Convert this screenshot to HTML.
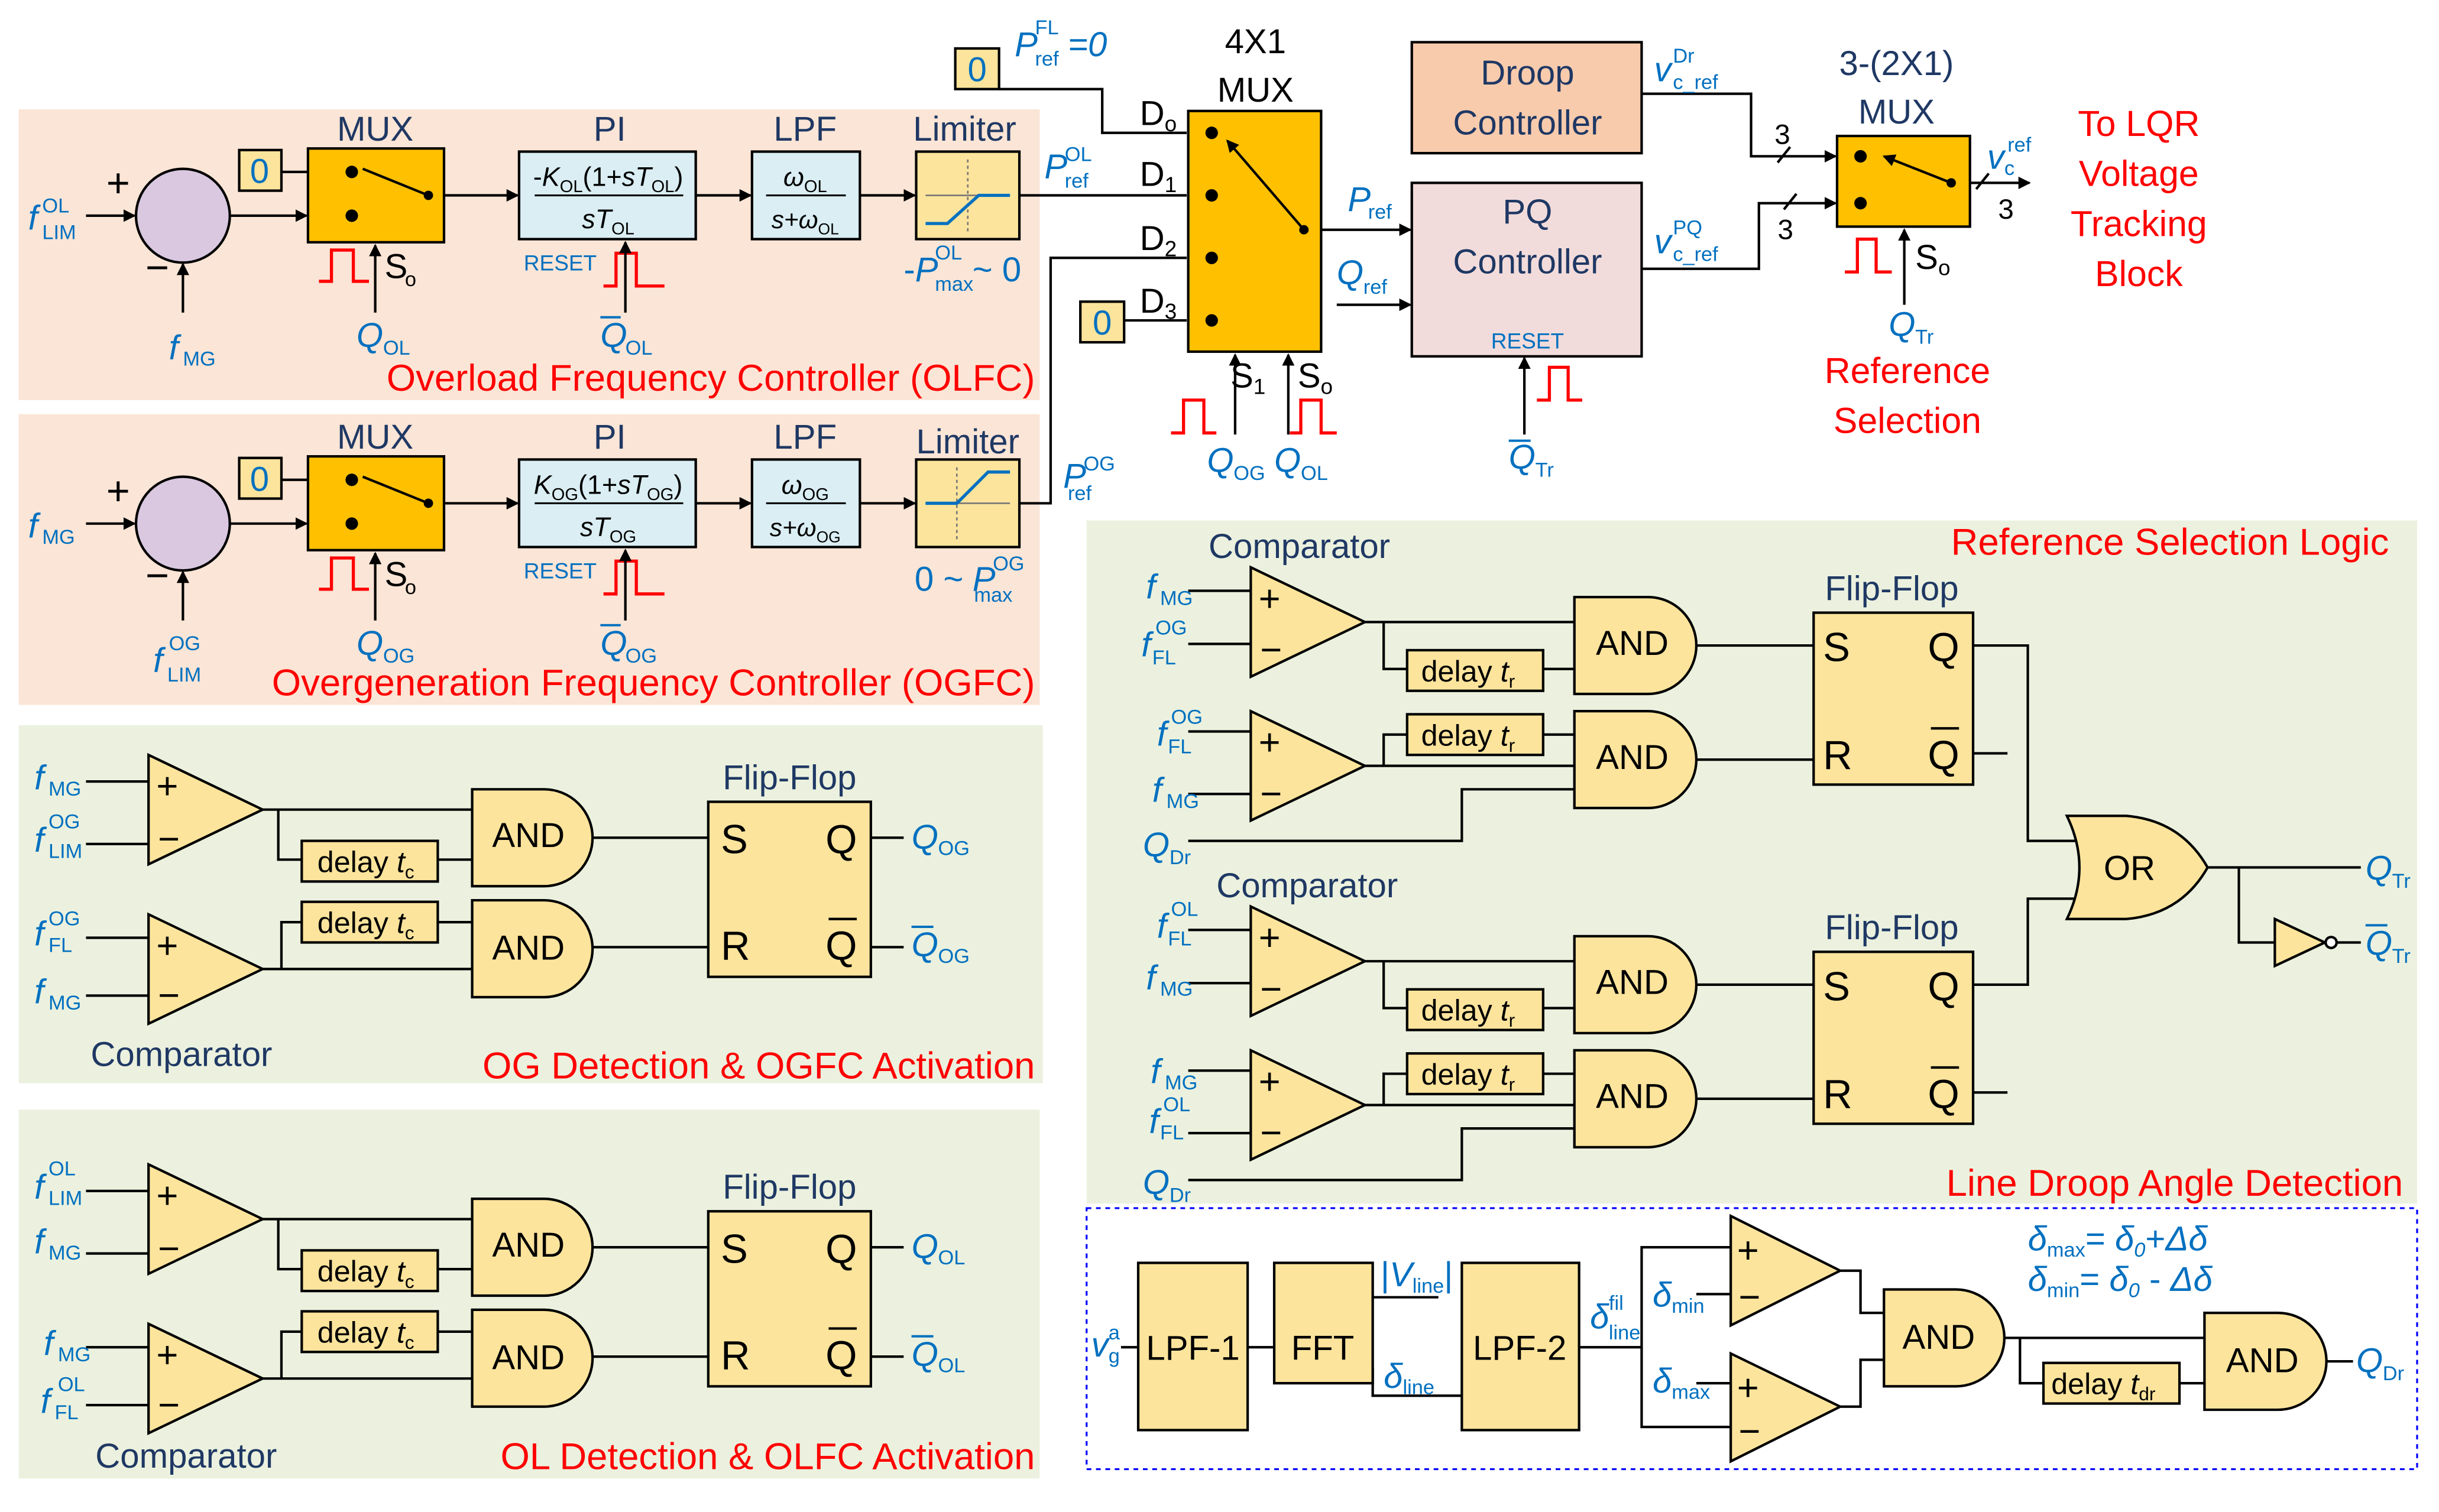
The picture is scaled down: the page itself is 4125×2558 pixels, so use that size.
<!DOCTYPE html>
<html><head><meta charset="utf-8"><style>
html,body{margin:0;padding:0;background:#fff}
svg{display:block}
text{font-family:"Liberation Sans",sans-serif}
.b{fill:#0070c0}.r{fill:#ff0000}.n{fill:#1f3864}.k{fill:#000}
.ln{stroke:#000;stroke-width:1.6;fill:none}
.bx{stroke:#000;stroke-width:1.6}
.pl{stroke:#ff0000;stroke-width:2;fill:none}
</style></head><body>
<svg width="4125" height="2558" viewBox="0 0 1560 967.4" preserveAspectRatio="none" xmlns="http://www.w3.org/2000/svg">
<defs>
<marker id="a" markerWidth="8" markerHeight="8" refX="7" refY="4" orient="auto" markerUnits="userSpaceOnUse"><path d="M0,0 L8,4 L0,8 Z" fill="#000"/></marker>
</defs>
<rect width="1560" height="967.4" fill="#fff"/>
<rect x="12" y="70" width="653" height="186" fill="#fbe5d6"/>
<rect x="12" y="265" width="653" height="186" fill="#fbe5d6"/>
<rect x="12" y="464" width="655" height="229" fill="#ebf1de"/>
<rect x="12" y="710" width="653" height="236" fill="#ebf1de"/>
<rect x="695" y="333" width="851" height="437" fill="#ebf1de"/>
<rect x="695" y="773" width="851" height="167" fill="#fff" stroke="#0000ff" stroke-width="1.2" stroke-dasharray="3,3"/>

<g font-size="22">
<text x="18" y="147" class="b" font-style="italic">f</text><text x="27" y="136" class="b" font-size="13">OL</text><text x="27" y="153" class="b" font-size="13">LIM</text>
<line x1="55" y1="138" x2="86" y2="138" class="ln" marker-end="url(#a)"/>
<circle cx="117" cy="138" r="30" fill="#d9c8e0" class="bx"/>
<text x="68" y="126" class="k" font-size="26">+</text><text x="93" y="180" class="k" font-size="26">−</text>
<line x1="117" y1="200" x2="117" y2="169" class="ln" marker-end="url(#a)"/>
<text x="108" y="230" class="b" font-style="italic">f</text><text x="117" y="234" class="b" font-size="13">MG</text>
<line x1="147" y1="138" x2="196" y2="138" class="ln" marker-end="url(#a)"/>
<rect x="153" y="96" width="27" height="26" fill="#fce49c" class="bx"/><text x="166" y="117" class="b" text-anchor="middle">0</text>
<line x1="180" y1="110" x2="197" y2="110" class="ln"/>
<text x="240" y="90" class="n" text-anchor="middle">MUX</text>
<rect x="197" y="95" width="87" height="60" fill="#ffc000" class="bx"/>
<circle cx="225" cy="110" r="4"/><circle cx="225" cy="138" r="4"/><circle cx="274" cy="125" r="3"/>
<line x1="274" y1="125" x2="232" y2="108" class="ln"/>
<line x1="284" y1="125" x2="331" y2="125" class="ln" marker-end="url(#a)"/>
<path d="M204,180 H212 V160 H226 V180 H236" class="pl"/>
<text x="246" y="178" class="k">S</text><text x="259" y="183" class="k" font-size="13">o</text>
<line x1="240" y1="200" x2="240" y2="157" class="ln" marker-end="url(#a)"/>
<text x="228" y="222" class="b" font-style="italic">Q</text><text x="245" y="227" class="b" font-size="13">OL</text>
<text x="390" y="90" class="n" text-anchor="middle">PI</text>
<rect x="332" y="97" width="113" height="56" fill="#daeef3" class="bx"/>
<text x="389" y="119" class="k" font-size="17" text-anchor="middle">-<tspan font-style="italic">K</tspan><tspan font-size="11" dy="4">OL</tspan><tspan dy="-4">(1+</tspan><tspan font-style="italic">sT</tspan><tspan font-size="11" dy="4">OL</tspan><tspan dy="-4">)</tspan></text>
<line x1="342" y1="125" x2="437" y2="125" stroke="#000" stroke-width="1.2"/>
<text x="389" y="146" class="k" font-size="17" text-anchor="middle" font-style="italic">sT<tspan font-size="11" dy="4" font-style="normal">OL</tspan></text>
<text x="335" y="173" class="b" font-size="14">RESET</text>
<path d="M386,183 H394 V162 H407 V183 H425" class="pl"/>
<line x1="400" y1="200" x2="400" y2="155" class="ln" marker-end="url(#a)"/>
<text x="384" y="222" class="b" font-style="italic">Q</text><line x1="384" y1="203" x2="397" y2="203" stroke="#0070c0" stroke-width="1.5"/><text x="400" y="227" class="b" font-size="13">OL</text>
<line x1="445" y1="125" x2="480" y2="125" class="ln" marker-end="url(#a)"/>
<text x="515" y="90" class="n" text-anchor="middle">LPF</text>
<rect x="481" y="97" width="69" height="56" fill="#daeef3" class="bx"/>
<text x="515" y="119" class="k" font-size="17" text-anchor="middle" font-style="italic">ω<tspan font-size="11" dy="4" font-style="normal">OL</tspan></text>
<line x1="490" y1="125" x2="541" y2="125" stroke="#000" stroke-width="1.2"/>
<text x="515" y="146" class="k" font-size="16" text-anchor="middle" font-style="italic">s+ω<tspan font-size="10" dy="4" font-style="normal">OL</tspan></text>
<line x1="550" y1="125" x2="585" y2="125" class="ln" marker-end="url(#a)"/>
<text x="617" y="90" class="n" text-anchor="middle">Limiter</text>
<rect x="586" y="97" width="66" height="56" fill="#fce49c" class="bx"/>
<line x1="592" y1="125" x2="646" y2="125" stroke="#777" stroke-width="1"/><line x1="619" y1="102" x2="619" y2="148" stroke="#777" stroke-width="1" stroke-dasharray="2,2"/>
<path d="M592,143 H606 L626,125 H646" stroke="#0070c0" stroke-width="2" fill="none"/>
<text x="578" y="180" class="b">-<tspan font-style="italic">P</tspan></text><text x="598" y="166" class="b" font-size="13">OL</text><text x="598" y="186" class="b" font-size="13">max</text><text x="622" y="180" class="b">~ 0</text>
<line x1="652" y1="125" x2="759" y2="125" class="ln"/>
<text x="668" y="114" class="b" font-style="italic">P</text><text x="681" y="103" class="b" font-size="13">OL</text><text x="681" y="120" class="b" font-size="13">ref</text>
<text x="662" y="250" class="r" font-size="24" text-anchor="end">Overload Frequency Controller (OLFC)</text>

<text x="18" y="344" class="b" font-style="italic">f</text><text x="27" y="348" class="b" font-size="13">MG</text>
<line x1="55" y1="335" x2="86" y2="335" class="ln" marker-end="url(#a)"/>
<circle cx="117" cy="335" r="30" fill="#d9c8e0" class="bx"/>
<text x="68" y="323" class="k" font-size="26">+</text><text x="93" y="377" class="k" font-size="26">−</text>
<line x1="117" y1="397" x2="117" y2="366" class="ln" marker-end="url(#a)"/>
<text x="98" y="430" class="b" font-style="italic">f</text><text x="108" y="416" class="b" font-size="13">OG</text><text x="107" y="436" class="b" font-size="13">LIM</text>
<line x1="147" y1="335" x2="196" y2="335" class="ln" marker-end="url(#a)"/>
<rect x="153" y="293" width="27" height="26" fill="#fce49c" class="bx"/><text x="166" y="314" class="b" text-anchor="middle">0</text>
<line x1="180" y1="307" x2="197" y2="307" class="ln"/>
<text x="240" y="287" class="n" text-anchor="middle">MUX</text>
<rect x="197" y="292" width="87" height="60" fill="#ffc000" class="bx"/>
<circle cx="225" cy="307" r="4"/><circle cx="225" cy="335" r="4"/><circle cx="274" cy="322" r="3"/>
<line x1="274" y1="322" x2="232" y2="305" class="ln"/>
<line x1="284" y1="322" x2="331" y2="322" class="ln" marker-end="url(#a)"/>
<path d="M204,377 H212 V357 H226 V377 H236" class="pl"/>
<text x="246" y="375" class="k">S</text><text x="259" y="380" class="k" font-size="13">o</text>
<line x1="240" y1="397" x2="240" y2="354" class="ln" marker-end="url(#a)"/>
<text x="228" y="419" class="b" font-style="italic">Q</text><text x="245" y="424" class="b" font-size="13">OG</text>
<text x="390" y="287" class="n" text-anchor="middle">PI</text>
<rect x="332" y="294" width="113" height="56" fill="#daeef3" class="bx"/>
<text x="389" y="316" class="k" font-size="17" text-anchor="middle"><tspan font-style="italic">K</tspan><tspan font-size="11" dy="4">OG</tspan><tspan dy="-4">(1+</tspan><tspan font-style="italic">sT</tspan><tspan font-size="11" dy="4">OG</tspan><tspan dy="-4">)</tspan></text>
<line x1="342" y1="322" x2="437" y2="322" stroke="#000" stroke-width="1.2"/>
<text x="389" y="343" class="k" font-size="17" text-anchor="middle" font-style="italic">sT<tspan font-size="11" dy="4" font-style="normal">OG</tspan></text>
<text x="335" y="370" class="b" font-size="14">RESET</text>
<path d="M386,380 H394 V359 H407 V380 H425" class="pl"/>
<line x1="400" y1="397" x2="400" y2="352" class="ln" marker-end="url(#a)"/>
<text x="384" y="419" class="b" font-style="italic">Q</text><line x1="384" y1="400" x2="397" y2="400" stroke="#0070c0" stroke-width="1.5"/><text x="400" y="424" class="b" font-size="13">OG</text>
<line x1="445" y1="322" x2="480" y2="322" class="ln" marker-end="url(#a)"/>
<text x="515" y="287" class="n" text-anchor="middle">LPF</text>
<rect x="481" y="294" width="69" height="56" fill="#daeef3" class="bx"/>
<text x="515" y="316" class="k" font-size="17" text-anchor="middle" font-style="italic">ω<tspan font-size="11" dy="4" font-style="normal">OG</tspan></text>
<line x1="490" y1="322" x2="541" y2="322" stroke="#000" stroke-width="1.2"/>
<text x="515" y="343" class="k" font-size="16" text-anchor="middle" font-style="italic">s+ω<tspan font-size="10" dy="4" font-style="normal">OG</tspan></text>
<line x1="550" y1="322" x2="585" y2="322" class="ln" marker-end="url(#a)"/>
<text x="619" y="290" class="n" text-anchor="middle">Limiter</text>
<rect x="586" y="294" width="66" height="56" fill="#fce49c" class="bx"/>
<line x1="592" y1="322" x2="646" y2="322" stroke="#777" stroke-width="1"/><line x1="612" y1="299" x2="612" y2="345" stroke="#777" stroke-width="1" stroke-dasharray="2,2"/>
<path d="M592,322 H612 L632,302 H646" stroke="#0070c0" stroke-width="2" fill="none"/>
<text x="585" y="378" class="b">0 ~</text><text x="622" y="378" class="b" font-style="italic">P</text><text x="635" y="365" class="b" font-size="13">OG</text><text x="623" y="385" class="b" font-size="13">max</text>
<polyline points="652,322 672,322 672,165 759,165" class="ln"/>
<text x="680" y="312" class="b" font-style="italic">P</text><text x="693" y="301" class="b" font-size="13">OG</text><text x="683" y="320" class="b" font-size="13">ref</text>
<text x="662" y="445" class="r" font-size="24" text-anchor="end">Overgeneration Frequency Controller (OGFC)</text>

<text x="803" y="34" class="k" text-anchor="middle">4X1</text>
<text x="803" y="65" class="k" text-anchor="middle">MUX</text>
<rect x="760" y="71" width="85" height="154" fill="#ffc000" class="bx"/>
<circle cx="775" cy="85" r="4"/><circle cx="775" cy="125" r="4"/><circle cx="775" cy="165" r="4"/><circle cx="775" cy="205" r="4"/><circle cx="834" cy="147" r="3"/>
<line x1="834" y1="147" x2="785" y2="90" class="ln" marker-end="url(#a)"/>
<text x="729" y="80" class="k">D<tspan font-size="14" dy="4">o</tspan></text>
<text x="729" y="119" class="k">D<tspan font-size="14" dy="4">1</tspan></text>
<text x="729" y="160" class="k">D<tspan font-size="14" dy="4">2</tspan></text>
<text x="729" y="200" class="k">D<tspan font-size="14" dy="4">3</tspan></text>
<rect x="611" y="31" width="28" height="26" fill="#fce49c" class="bx"/><text x="625" y="52" class="b" text-anchor="middle">0</text>
<polyline points="639,57 705,57 705,85 759,85" class="ln"/>
<text x="649" y="36" class="b" font-style="italic">P</text><text x="662" y="22" class="b" font-size="13">FL</text><text x="662" y="42" class="b" font-size="13">ref</text><text x="683" y="36" class="b" font-style="italic">=0</text>
<rect x="691" y="193" width="28" height="26" fill="#fce49c" class="bx"/><text x="705" y="214" class="b" text-anchor="middle">0</text>
<line x1="719" y1="205" x2="759" y2="205" class="ln"/>
<line x1="845" y1="147" x2="902" y2="147" class="ln" marker-end="url(#a)"/>
<text x="862" y="135" class="b" font-style="italic">P</text><text x="875" y="140" class="b" font-size="13">ref</text>
<text x="855" y="182" class="b" font-style="italic">Q</text><text x="872" y="188" class="b" font-size="13">ref</text>
<line x1="855" y1="195" x2="902" y2="195" class="ln" marker-end="url(#a)"/>
<path d="M749,277 H757 V256 H770 V277 H778" class="pl"/>
<path d="M825,277 H832 V256 H845 V277 H855" class="pl"/>
<line x1="790" y1="278" x2="790" y2="227" class="ln" marker-end="url(#a)"/>
<line x1="824" y1="278" x2="824" y2="227" class="ln" marker-end="url(#a)"/>
<text x="787" y="248" class="k">S<tspan font-size="14" dy="4">1</tspan></text>
<text x="830" y="248" class="k">S<tspan font-size="14" dy="4">o</tspan></text>
<text x="772" y="302" class="b" font-style="italic">Q</text><text x="789" y="307" class="b" font-size="13">OG</text>
<text x="815" y="302" class="b" font-style="italic">Q</text><text x="832" y="307" class="b" font-size="13">OL</text>

<rect x="903" y="27" width="147" height="71" fill="#f8cbad" class="bx"/>
<text x="977" y="54" class="n" text-anchor="middle">Droop</text><text x="977" y="86" class="n" text-anchor="middle">Controller</text>
<rect x="903" y="117" width="147" height="111" fill="#f2dcdb" class="bx"/>
<text x="977" y="143" class="n" text-anchor="middle">PQ</text><text x="977" y="175" class="n" text-anchor="middle">Controller</text>
<text x="977" y="223" class="b" font-size="14" text-anchor="middle">RESET</text>
<path d="M983,256 H991 V235 H1003 V256 H1012" class="pl"/>
<line x1="975" y1="278" x2="975" y2="229" class="ln" marker-end="url(#a)"/>
<text x="965" y="300" class="b" font-style="italic">Q</text><line x1="965" y1="282" x2="979" y2="282" stroke="#0070c0" stroke-width="1.5"/><text x="982" y="305" class="b" font-size="13">Tr</text>
<polyline points="1050,60 1120,60 1120,100 1174,100" class="ln" marker-end="url(#a)"/>
<polyline points="1050,172 1125,172 1125,130 1174,130" class="ln" marker-end="url(#a)"/>
<text x="1058" y="52" class="b" font-style="italic">v</text><text x="1070" y="40" class="b" font-size="13">Dr</text><text x="1070" y="57" class="b" font-size="13">c_ref</text>
<text x="1058" y="162" class="b" font-style="italic">v</text><text x="1070" y="150" class="b" font-size="13">PQ</text><text x="1070" y="167" class="b" font-size="13">c_ref</text>
<line x1="1137" y1="104" x2="1145" y2="94" class="ln"/><line x1="1141" y1="134" x2="1149" y2="124" class="ln"/>
<text x="1135" y="92" class="k" font-size="18">3</text><text x="1137" y="153" class="k" font-size="18">3</text>
<text x="1213" y="48" class="n" text-anchor="middle">3-(2X1)</text>
<text x="1213" y="79" class="n" text-anchor="middle">MUX</text>
<rect x="1175" y="87" width="85" height="58" fill="#ffc000" class="bx"/>
<circle cx="1190" cy="100" r="4"/><circle cx="1190" cy="130" r="4"/><circle cx="1248" cy="117" r="3"/>
<line x1="1248" y1="117" x2="1205" y2="100" class="ln" marker-end="url(#a)"/>
<line x1="1260" y1="117" x2="1298" y2="117" class="ln" marker-end="url(#a)"/>
<line x1="1264" y1="121" x2="1272" y2="111" class="ln"/>
<text x="1271" y="108" class="b" font-style="italic">v</text><text x="1282" y="112" class="b" font-size="13">c</text><text x="1284" y="97" class="b" font-size="13">ref</text>
<text x="1278" y="140" class="k" font-size="18">3</text>
<path d="M1180,174 H1188 V153 H1200 V174 H1210" class="pl"/>
<line x1="1218" y1="195" x2="1218" y2="147" class="ln" marker-end="url(#a)"/>
<text x="1225" y="172" class="k">S<tspan font-size="14" dy="4">o</tspan></text>
<text x="1208" y="215" class="b" font-style="italic">Q</text><text x="1225" y="220" class="b" font-size="13">Tr</text>
<text x="1220" y="245" class="r" font-size="23" text-anchor="middle">Reference</text>
<text x="1220" y="277" class="r" font-size="23" text-anchor="middle">Selection</text>
<text x="1368" y="87" class="r" font-size="23" text-anchor="middle">To LQR</text>
<text x="1368" y="119" class="r" font-size="23" text-anchor="middle">Voltage</text>
<text x="1368" y="151" class="r" font-size="23" text-anchor="middle">Tracking</text>
<text x="1368" y="183" class="r" font-size="23" text-anchor="middle">Block</text>

<g id="det1">
<line x1="55" y1="500" x2="95" y2="500" class="ln"/><line x1="55" y1="540" x2="95" y2="540" class="ln"/>
<path d="M95,483 L168,518 L95,553 Z" fill="#fce49c" class="bx"/>
<text x="100" y="511" class="k" font-size="24">+</text><text x="101" y="545" class="k" font-size="24">−</text>
<line x1="168" y1="518" x2="302" y2="518" class="ln"/>
<polyline points="178,518 178,550 302,550" class="ln"/>
<rect x="193" y="538" width="87" height="26" fill="#fce49c" class="bx"/>
<text x="203" y="558" class="k" font-size="19">delay <tspan font-style="italic">t</tspan><tspan font-size="12" dy="4">c</tspan></text>
<path d="M302,505 H348 A31,31 0 0 1 348,567 H302 Z" fill="#fce49c" class="bx"/>
<text x="338" y="542" class="k" text-anchor="middle">AND</text>
<path d="M95,585 L168,620 L95,655 Z" fill="#fce49c" class="bx"/>
<line x1="55" y1="600" x2="95" y2="600" class="ln"/><line x1="55" y1="637" x2="95" y2="637" class="ln"/>
<text x="100" y="613" class="k" font-size="24">+</text><text x="101" y="645" class="k" font-size="24">−</text>
<line x1="168" y1="620" x2="302" y2="620" class="ln"/>
<polyline points="180,620 180,590 302,590" class="ln"/>
<rect x="193" y="577" width="87" height="26" fill="#fce49c" class="bx"/>
<text x="203" y="597" class="k" font-size="19">delay <tspan font-style="italic">t</tspan><tspan font-size="12" dy="4">c</tspan></text>
<path d="M302,576 H348 A31,31 0 0 1 348,638 H302 Z" fill="#fce49c" class="bx"/>
<text x="338" y="614" class="k" text-anchor="middle">AND</text>
<line x1="379" y1="536" x2="453" y2="536" class="ln"/><line x1="379" y1="606" x2="453" y2="606" class="ln"/>
<rect x="453" y="513" width="104" height="112" fill="#fce49c" class="bx"/>
<text x="505" y="505" class="n" text-anchor="middle">Flip-Flop</text>
<text x="461" y="546" class="k" font-size="26">S</text><text x="461" y="614" class="k" font-size="26">R</text>
<text x="528" y="546" class="k" font-size="26">Q</text><text x="528" y="614" class="k" font-size="26">Q</text>
<line x1="530" y1="588" x2="548" y2="588" stroke="#000" stroke-width="1.6"/>
<line x1="557" y1="536" x2="578" y2="536" class="ln"/><line x1="557" y1="606" x2="578" y2="606" class="ln"/>
</g>
<text x="22" y="505" class="b" font-style="italic">f</text><text x="31" y="509" class="b" font-size="13">MG</text>
<text x="22" y="545" class="b" font-style="italic">f</text><text x="31" y="530" class="b" font-size="13">OG</text><text x="31" y="549" class="b" font-size="13">LIM</text>
<text x="22" y="605" class="b" font-style="italic">f</text><text x="31" y="592" class="b" font-size="13">OG</text><text x="31" y="609" class="b" font-size="13">FL</text>
<text x="22" y="642" class="b" font-style="italic">f</text><text x="31" y="646" class="b" font-size="13">MG</text>
<text x="583" y="543" class="b" font-style="italic">Q</text><text x="600" y="547" class="b" font-size="13">OG</text>
<text x="583" y="612" class="b" font-style="italic">Q</text><line x1="583" y1="593" x2="597" y2="593" stroke="#0070c0" stroke-width="1.5"/><text x="600" y="616" class="b" font-size="13">OG</text>
<text x="58" y="682" class="n">Comparator</text>
<text x="662" y="690" class="r" font-size="24" text-anchor="end">OG Detection &amp; OGFC Activation</text>

<use href="#det1" transform="translate(0,262)"/>
<text x="22" y="767" class="b" font-style="italic">f</text><text x="31" y="752" class="b" font-size="13">OL</text><text x="31" y="771" class="b" font-size="13">LIM</text>
<text x="22" y="802" class="b" font-style="italic">f</text><text x="31" y="806" class="b" font-size="13">MG</text>
<text x="28" y="867" class="b" font-style="italic">f</text><text x="37" y="871" class="b" font-size="13">MG</text>
<text x="26" y="904" class="b" font-style="italic">f</text><text x="37" y="890" class="b" font-size="13">OL</text><text x="35" y="908" class="b" font-size="13">FL</text>
<text x="583" y="805" class="b" font-style="italic">Q</text><text x="600" y="809" class="b" font-size="13">OL</text>
<text x="583" y="874" class="b" font-style="italic">Q</text><line x1="583" y1="855" x2="597" y2="855" stroke="#0070c0" stroke-width="1.5"/><text x="600" y="878" class="b" font-size="13">OL</text>
<text x="61" y="939" class="n">Comparator</text>
<text x="662" y="940" class="r" font-size="24" text-anchor="end">OL Detection &amp; OLFC Activation</text>

<text x="773" y="357" class="n">Comparator</text>
<text x="1528" y="355" class="r" font-size="24" text-anchor="end">Reference Selection Logic</text>
<g id="rs1">
<line x1="760" y1="378" x2="800" y2="378" class="ln"/><line x1="760" y1="412" x2="800" y2="412" class="ln"/>
<path d="M800,363 L873,398 L800,433 Z" fill="#fce49c" class="bx"/>
<text x="805" y="391" class="k" font-size="24">+</text><text x="806" y="424" class="k" font-size="24">−</text>
<line x1="873" y1="398" x2="1007" y2="398" class="ln"/>
<polyline points="885,398 885,428 1007,428" class="ln"/>
<rect x="900" y="416" width="87" height="26" fill="#fce49c" class="bx"/>
<text x="909" y="436" class="k" font-size="19">delay <tspan font-style="italic">t</tspan><tspan font-size="12" dy="4">r</tspan></text>
<path d="M1007,382 H1054 A31,31 0 0 1 1054,444 H1007 Z" fill="#fce49c" class="bx"/>
<text x="1044" y="419" class="k" text-anchor="middle">AND</text>
<line x1="760" y1="468" x2="800" y2="468" class="ln"/><line x1="760" y1="508" x2="800" y2="508" class="ln"/>
<path d="M800,455 L873,490 L800,525 Z" fill="#fce49c" class="bx"/>
<text x="805" y="483" class="k" font-size="24">+</text><text x="806" y="516" class="k" font-size="24">−</text>
<line x1="873" y1="490" x2="1007" y2="490" class="ln"/>
<polyline points="885,490 885,470 1007,470" class="ln"/>
<rect x="900" y="457" width="87" height="26" fill="#fce49c" class="bx"/>
<text x="909" y="477" class="k" font-size="19">delay <tspan font-style="italic">t</tspan><tspan font-size="12" dy="4">r</tspan></text>
<polyline points="760,538 935,538 935,505 1007,505" class="ln"/>
<path d="M1007,455 H1054 A31,31 0 0 1 1054,517 H1007 Z" fill="#fce49c" class="bx"/>
<text x="1044" y="492" class="k" text-anchor="middle">AND</text>
<line x1="1085" y1="413" x2="1160" y2="413" class="ln"/><line x1="1085" y1="486" x2="1160" y2="486" class="ln"/>
<rect x="1160" y="392" width="102" height="110" fill="#fce49c" class="bx"/>
<text x="1210" y="384" class="n" text-anchor="middle">Flip-Flop</text>
<text x="1166" y="423" class="k" font-size="26">S</text><text x="1166" y="492" class="k" font-size="26">R</text>
<text x="1233" y="423" class="k" font-size="26">Q</text><text x="1233" y="492" class="k" font-size="26">Q</text>
<line x1="1235" y1="466" x2="1253" y2="466" stroke="#000" stroke-width="1.6"/>
<line x1="1262" y1="482" x2="1284" y2="482" class="ln"/>
</g>
<use href="#rs1" transform="translate(0,217)"/>
<text x="733" y="383" class="b" font-style="italic">f</text><text x="742" y="387" class="b" font-size="13">MG</text>
<text x="730" y="420" class="b" font-style="italic">f</text><text x="739" y="406" class="b" font-size="13">OG</text><text x="737" y="425" class="b" font-size="13">FL</text>
<text x="740" y="477" class="b" font-style="italic">f</text><text x="749" y="463" class="b" font-size="13">OG</text><text x="747" y="482" class="b" font-size="13">FL</text>
<text x="737" y="513" class="b" font-style="italic">f</text><text x="746" y="517" class="b" font-size="13">MG</text>
<text x="731" y="548" class="b" font-style="italic">Q</text><text x="748" y="553" class="b" font-size="13">Dr</text>
<text x="778" y="574" class="n">Comparator</text>
<text x="740" y="600" class="b" font-style="italic">f</text><text x="749" y="586" class="b" font-size="13">OL</text><text x="747" y="605" class="b" font-size="13">FL</text>
<text x="733" y="633" class="b" font-style="italic">f</text><text x="742" y="637" class="b" font-size="13">MG</text>
<text x="736" y="693" class="b" font-style="italic">f</text><text x="745" y="697" class="b" font-size="13">MG</text>
<text x="735" y="725" class="b" font-style="italic">f</text><text x="744" y="711" class="b" font-size="13">OL</text><text x="742" y="729" class="b" font-size="13">FL</text>
<text x="731" y="764" class="b" font-style="italic">Q</text><text x="748" y="769" class="b" font-size="13">Dr</text>
<polyline points="1262,413 1297,413 1297,538 1330,538" class="ln"/>
<polyline points="1262,630 1297,630 1297,575 1330,575" class="ln"/>
<path d="M1322,522 H1360 Q1395,525 1412,555 Q1395,585 1360,588 H1322 Q1338,555 1322,522 Z" fill="#fce49c" class="bx"/>
<text x="1362" y="563" class="k" text-anchor="middle">OR</text>
<line x1="1412" y1="555" x2="1510" y2="555" class="ln"/>
<polyline points="1432,555 1432,603 1455,603" class="ln"/>
<path d="M1455,588 L1487,603 L1455,618 Z" fill="#fce49c" class="bx"/>
<circle cx="1491" cy="603" r="3.5" fill="#fff" class="bx"/>
<line x1="1495" y1="603" x2="1510" y2="603" class="ln"/>
<text x="1513" y="563" class="b" font-style="italic">Q</text><text x="1530" y="568" class="b" font-size="13">Tr</text>
<text x="1513" y="611" class="b" font-style="italic">Q</text><line x1="1513" y1="592" x2="1527" y2="592" stroke="#0070c0" stroke-width="1.5"/><text x="1530" y="616" class="b" font-size="13">Tr</text>
<text x="1537" y="765" class="r" font-size="24" text-anchor="end">Line Droop Angle Detection</text>

<text x="698" y="868" class="b" font-style="italic">v</text><text x="709" y="872" class="b" font-size="13">g</text><text x="709" y="857" class="b" font-size="13">a</text>
<line x1="717" y1="862" x2="728" y2="862" class="ln"/>
<rect x="728" y="808" width="70" height="107" fill="#fce49c" class="bx"/><text x="763" y="870" class="k" text-anchor="middle">LPF-1</text>
<line x1="798" y1="862" x2="815" y2="862" class="ln"/>
<rect x="815" y="808" width="63" height="77" fill="#fce49c" class="bx"/><text x="846" y="870" class="k" text-anchor="middle">FFT</text>
<line x1="878" y1="830" x2="920" y2="830" class="ln"/>
<text x="883" y="823" class="b">|<tspan font-style="italic">V</tspan><tspan font-size="13" dy="4">line</tspan><tspan dy="-4">|</tspan></text>
<polyline points="878,875 878,893 935,893" class="ln"/>
<text x="885" y="888" class="b" font-style="italic">δ<tspan font-size="13" dy="4" font-style="normal">line</tspan></text>
<rect x="935" y="808" width="75" height="107" fill="#fce49c" class="bx"/><text x="972" y="870" class="k" text-anchor="middle">LPF-2</text>
<text x="1017" y="850" class="b" font-style="italic">δ</text><text x="1029" y="838" class="b" font-size="13">fil</text><text x="1029" y="857" class="b" font-size="13">line</text>
<polyline points="1010,862 1050,862 1050,798 1107,798" class="ln"/>
<polyline points="1050,862 1050,913 1107,913" class="ln"/>
<line x1="1085" y1="828" x2="1107" y2="828" class="ln"/><line x1="1085" y1="885" x2="1107" y2="885" class="ln"/>
<text x="1057" y="836" class="b" font-style="italic">δ<tspan font-size="13" dy="4" font-style="normal">min</tspan></text>
<text x="1057" y="891" class="b" font-style="italic">δ<tspan font-size="13" dy="4" font-style="normal">max</tspan></text>
<path d="M1107,778 L1177,813 L1107,848 Z" fill="#fce49c" class="bx"/>
<text x="1111" y="808" class="k" font-size="24">+</text><text x="1112" y="838" class="k" font-size="24">−</text>
<path d="M1107,866 L1177,900 L1107,935 Z" fill="#fce49c" class="bx"/>
<text x="1111" y="896" class="k" font-size="24">+</text><text x="1112" y="924" class="k" font-size="24">−</text>
<polyline points="1177,813 1190,813 1190,840 1205,840" class="ln"/>
<polyline points="1177,900 1190,900 1190,870 1205,870" class="ln"/>
<path d="M1205,825 H1251 A31,31 0 0 1 1251,887 H1205 Z" fill="#fce49c" class="bx"/>
<text x="1240" y="863" class="k" text-anchor="middle">AND</text>
<line x1="1282" y1="856" x2="1410" y2="856" class="ln"/>
<polyline points="1292,856 1292,885 1410,885" class="ln"/>
<rect x="1307" y="872" width="87" height="26" fill="#fce49c" class="bx"/>
<text x="1312" y="892" class="k" font-size="19">delay <tspan font-style="italic">t</tspan><tspan font-size="12" dy="4">dr</tspan></text>
<path d="M1410,840 H1457 A31,31 0 0 1 1457,902 H1410 Z" fill="#fce49c" class="bx"/>
<text x="1447" y="878" class="k" text-anchor="middle">AND</text>
<line x1="1488" y1="871" x2="1505" y2="871" class="ln"/>
<text x="1507" y="878" class="b" font-style="italic">Q</text><text x="1524" y="883" class="b" font-size="13">Dr</text>
<text x="1297" y="800" class="b" font-style="italic">δ<tspan font-size="13" dy="4" font-style="normal">max</tspan><tspan dy="-4" font-style="normal">= </tspan>δ<tspan font-size="13" dy="4">0</tspan><tspan dy="-4" font-style="normal">+</tspan>Δδ</text>
<text x="1297" y="826" class="b" font-style="italic">δ<tspan font-size="13" dy="4" font-style="normal">min</tspan><tspan dy="-4" font-style="normal">= </tspan>δ<tspan font-size="13" dy="4">0</tspan><tspan dy="-4" font-style="normal"> - </tspan>Δδ</text>
</g>
</svg>
</body></html>
